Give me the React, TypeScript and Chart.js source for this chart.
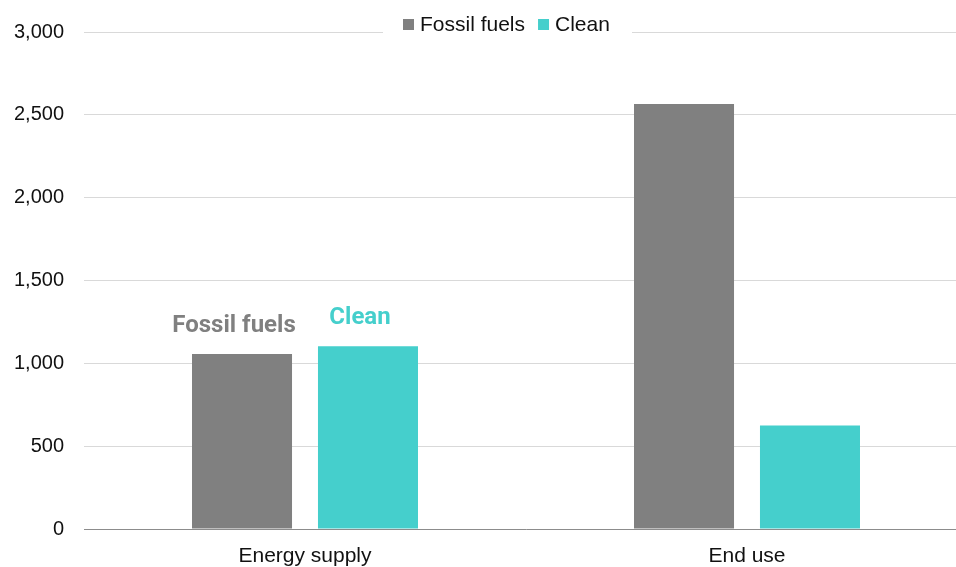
import React, { useEffect, useRef } from "react";
import { Chart, registerables } from "chart.js";

Chart.register(...registerables);

const categories = ["Energy supply", "End use"];
const fossilValues = [1057, 2565];
const cleanValues = [1103, 625];
const seriesNames = ["Fossil fuels", "Clean"];
const seriesColors = ["#808080", "#45CFCC"];
const yTicks = [0, 500, 1000, 1500, 2000, 2500, 3000];
const labelledCategory = 0;

const legendPlugin = {
  id: "customLegend",
  afterDraw(chart: any) {
    const ctx = chart.ctx;
    ctx.save();
    ctx.fillStyle = "#ffffff";
    ctx.fillRect(383, 8, 249, 34);
    ctx.font = "21px Arial, 'Liberation Sans', sans-serif";
    ctx.textBaseline = "middle";
    ctx.textAlign = "left";
    let x = 403;
    const y = 24;
    seriesNames.forEach((name, i) => {
      ctx.fillStyle = seriesColors[i];
      ctx.fillRect(x, y - 5, 11, 11);
      ctx.fillStyle = "#111111";
      ctx.fillText(name, x + 17, y + 1);
      x += 17 + ctx.measureText(name).width + 13;
    });
    ctx.restore();
  },
};

const barLabelPlugin = {
  id: "barLabels",
  afterDatasetsDraw(chart: any) {
    const ctx = chart.ctx;
    ctx.save();
    ctx.font = "bold 24px Roboto, Arial, sans-serif";
    ctx.textAlign = "center";
    ctx.textBaseline = "alphabetic";
    chart.data.datasets.forEach((ds: any, i: number) => {
      const meta = chart.getDatasetMeta(i);
      const bar = meta.data[labelledCategory];
      if (!bar) return;
      ctx.fillStyle = seriesColors[i];
      ctx.fillText(seriesNames[i], bar.x - 8, bar.y - 22);
    });
    ctx.restore();
  },
};

export default function App() {
  const canvasRef = useRef<HTMLCanvasElement | null>(null);

  useEffect(() => {
    if (!canvasRef.current) return;
    const chart = new Chart(canvasRef.current, {
      type: "bar",
      data: {
        labels: categories,
        datasets: [
          {
            label: seriesNames[0],
            data: fossilValues,
            backgroundColor: seriesColors[0],
            categoryPercentage: 0.57,
            barPercentage: 0.794,
          },
          {
            label: seriesNames[1],
            data: cleanValues,
            backgroundColor: seriesColors[1],
            categoryPercentage: 0.57,
            barPercentage: 0.794,
          },
        ],
      },
      options: {
        animation: false,
        responsive: true,
        maintainAspectRatio: false,
        layout: { padding: { top: 27, right: 0, left: 0, bottom: 0 } },
        plugins: {
          legend: { display: false },
          tooltip: { enabled: false },
        },
        scales: {
          x: {
            grid: { display: false, drawTicks: false },
            border: { display: true, color: "#8c8c8c", width: 1 },
            ticks: {
              color: "#111111",
              font: { family: "Arial, 'Liberation Sans', sans-serif", size: 21 },
              padding: 15,
            },
            afterFit(axis: any) {
              axis.height = 38;
            },
          },
          y: {
            min: 0,
            max: 3000,
            afterBuildTicks(axis: any) {
              axis.ticks = yTicks.map((v) => ({ value: v }));
            },
            grid: { color: "#d9d9d9", drawTicks: false },
            border: { display: false },
            ticks: {
              color: "#111111",
              font: { family: "Arial, 'Liberation Sans', sans-serif", size: 20 },
              padding: 20,
              callback: (v: any) => Number(v).toLocaleString("en-US"),
            },
            afterFit(axis: any) {
              axis.width = 84;
            },
          },
        },
      },
      plugins: [legendPlugin, barLabelPlugin],
    });
    return () => chart.destroy();
  }, []);

  return (
    <div style={{ position: "fixed", left: 0, top: 0, width: 968, height: 567, background: "#fff" }}>
      <canvas ref={canvasRef} />
    </div>
  );
}
